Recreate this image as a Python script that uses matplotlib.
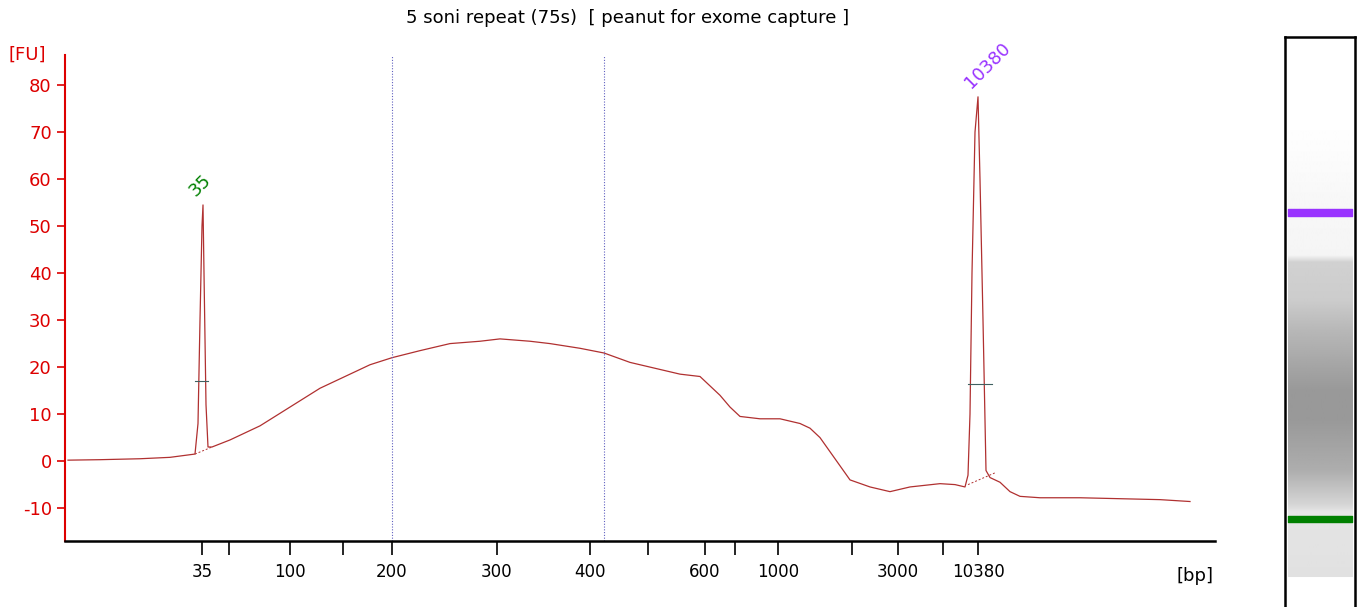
import matplotlib
matplotlib.use("Agg")
import matplotlib.pyplot as plt
import numpy as np
plt.rcParams["axes.unicode_minus"] = False

# data (x in run-position units, y in FU)
xs = [68,100,140,170,195,198,200,202,203,204,206,208,212,230,260,290,320,340,370,392,420,450,480,500,530,550,580,604,630,650,680,700,710,720,730,740,760,780,800,810,820,830,840,850,870,890,910,940,955,965,968,970,972,975,978,980,983,986,990,1000,1010,1020,1040,1080,1120,1160,1190]
ys = [0.2,0.3,0.5,0.8,1.5,8,30,50,54.5,40,12,3,3,4.5,7.5,11.5,15.5,17.5,20.5,22,23.5,25,25.5,26,25.5,25,24,23,21,20,18.5,18,16,14,11.5,9.5,9,9,8,7,5,2,-1,-4,-5.5,-6.5,-5.5,-4.8,-5,-5.5,-3,10,40,70,77.5,60,30,-2,-3.5,-4.5,-6.5,-7.5,-7.8,-7.8,-8,-8.2,-8.6]
tick_pos = [202,229,290,343,392,497,590,648,705,735,778,852,898,943,978]
tick_lab = ["35","","100","","200","300","400","","600","","1000","","3000","","10380"]
yticks = [-10,0,10,20,30,40,50,60,70,80]
peaks = [(203,54.5,"35","#008000"),(978,77.5,"10380","#9933ff")]
vlines = [392,604]

fig = plt.figure(figsize=(13.61,6.07),dpi=100)
ax = fig.add_axes([65/1361,1-541/607,(1215-65)/1361,(541-55)/607])
ax.plot(xs,ys,color="#b03030",lw=0.9)
ax.plot([195,212],[1.5,3],ls=(0,(2,2)),color="#b03030",lw=0.7)
ax.plot([968,995],[-5,-2.5],ls=(0,(2,2)),color="#b03030",lw=0.7)
ax.plot([195,208],[17,17],color="#406060",lw=0.8)
ax.plot([968,992],[16.5,16.5],color="#406060",lw=0.8)
for v in vlines:
    ax.axvline(v,color="#6060c0",ls=(0,(1,1.5)),lw=0.8)
for x,y,t,c in peaks:
    ax.text(x-4,y+1,t,color=c,rotation=45,fontsize=13,ha="left",va="bottom",rotation_mode="anchor")
ax.set_xlim(65,1215)
ax.set_ylim(-17,86.4)
ax.set_yticks(yticks)
ax.set_xticks(tick_pos)
ax.set_xticklabels(tick_lab,fontsize=12)
ax.tick_params(axis="x",length=10,width=1.2,pad=6)
ax.tick_params(axis="y",colors="#dd0000",labelsize=13,length=6,width=1.2)
for s in ["top","right"]:
    ax.spines[s].set_visible(False)
ax.spines["left"].set_color("#dd0000")
ax.spines["left"].set_linewidth(1.5)
ax.spines["bottom"].set_linewidth(1.8)
fig.text(8/1361,1-55/607,"[FU]",color="#dd0000",fontsize=13,va="center")
fig.text(1195/1361,1-576/607,"[bp]",fontsize=13,ha="center",va="center")
fig.text(628/1361,1-18/607,"5 soni repeat (75s)  [ peanut for exome capture ]",fontsize=13,ha="center",va="center")

# gel lane
gx = fig.add_axes([1285/1361,0,(1355-1285)/1361,1-37/607])
prof_y = [37,120,200,255,262,300,330,390,420,470,505,512,577]
prof_v = [1.0,1.0,0.97,0.96,0.82,0.8,0.72,0.6,0.6,0.68,0.84,0.9,0.88]
yy = np.arange(37,608)
vv = np.interp(yy,prof_y,prof_v)
vv[yy>577] = 1.0
img = np.repeat(vv[:,None],2,axis=1)
gx.imshow(img,cmap="gray",vmin=0,vmax=1,extent=[0.04,0.96,607,37],aspect="auto")
gx.fill_between([0.04,0.96],209,216,color="#9933ff")
gx.fill_between([0.04,0.96],516,522,color="#008000")
gx.set_xticks([]); gx.set_yticks([])
gx.spines["bottom"].set_visible(False)
for s in ["top","left","right"]:
    gx.spines[s].set_linewidth(1.8)
gx.set_xlim(0,1); gx.set_ylim(607,37)
fig.savefig("out.png",dpi=100)
